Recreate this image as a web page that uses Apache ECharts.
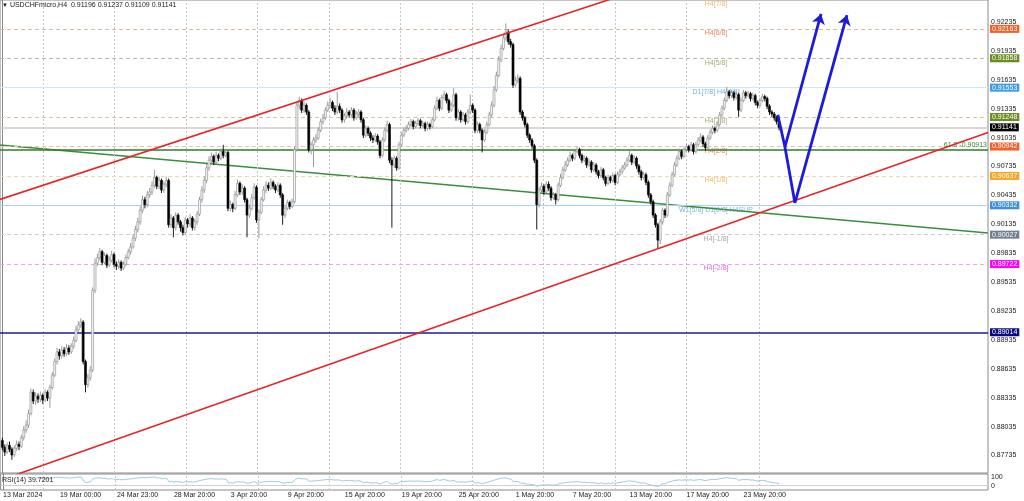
<!DOCTYPE html>
<html><head><meta charset="utf-8">
<script src="https://cdn.jsdelivr.net/npm/echarts@6/dist/echarts.min.js"></script>
<style>html,body{margin:0;padding:0;background:#fff}#main{width:1024px;height:501px}</style>
</head><body><div id="main"></div>
<script>
// ---------- DATA (bar index 0 = 13 Mar 2024 00:00, H4 bars) ----------
const open = [
0.8789,0.8782,0.8777,0.8784,0.8780,0.8774,0.8781,0.8785,0.8783,0.8792,
0.8800,0.8805,0.8817,0.8839,0.8830,0.8835,0.8832,0.8836,0.8831,0.8839,
0.8833,0.8844,0.8857,0.8871,0.8881,0.8877,0.8883,0.8879,0.8885,0.8881,
0.8887,0.8893,0.8904,0.8909,0.8912,0.8871,0.8847,0.8854,0.8862,0.8945,
0.8973,0.8979,0.8985,0.8974,0.8981,0.8971,0.8976,0.8982,0.8972,0.8970,
0.8974,0.8968,0.8972,0.8979,0.8985,0.8990,0.8999,0.9008,0.9016,0.9028,
0.9039,0.9034,0.9044,0.9047,0.9054,0.9062,0.9053,0.9059,0.9049,0.9055,
0.9059,0.9013,0.9020,0.9010,0.9023,0.9016,0.9010,0.9005,0.9018,0.9014,
0.9020,0.9010,0.9016,0.9024,0.9039,0.9049,0.9059,0.9072,0.9080,0.9084,
0.9078,0.9085,0.9082,0.9089,0.9085,0.9088,0.9030,0.9034,0.9030,0.9044,
0.9056,0.9047,0.9051,0.9039,0.9023,0.9030,0.9041,0.9052,0.9018,0.9026,
0.9039,0.9049,0.9054,0.9051,0.9057,0.9053,0.9049,0.9054,0.9044,0.9023,
0.9030,0.9036,0.9032,0.9037,0.9091,0.9137,0.9142,0.9132,0.9137,0.9130,
0.9091,0.9096,0.9101,0.9103,0.9111,0.9120,0.9124,0.9132,0.9137,0.9140,
0.9134,0.9130,0.9136,0.9132,0.9122,0.9126,0.9130,0.9127,0.9132,0.9124,
0.9128,0.9130,0.9122,0.9106,0.9113,0.9108,0.9103,0.9101,0.9105,0.9099,
0.9085,0.9101,0.9111,0.9117,0.9080,0.9075,0.9082,0.9072,0.9096,0.9106,
0.9111,0.9113,0.9117,0.9120,0.9115,0.9118,0.9121,0.9116,0.9118,0.9113,
0.9117,0.9115,0.9122,0.9134,0.9142,0.9134,0.9145,0.9148,0.9142,0.9132,
0.9137,0.9148,0.9124,0.9130,0.9122,0.9127,0.9120,0.9130,0.9137,0.9132,
0.9111,0.9117,0.9111,0.9101,0.9109,0.9117,0.9127,0.9137,0.9153,0.9168,
0.9184,0.9196,0.9207,0.9213,0.9203,0.9200,0.9158,0.9163,0.9165,0.9130,
0.9124,0.9117,0.9106,0.9101,0.9095,0.9080,0.9034,0.9049,0.9053,0.9047,
0.9055,0.9051,0.9041,0.9044,0.9039,0.9054,0.9062,0.9070,0.9075,0.9080,
0.9085,0.9082,0.9089,0.9091,0.9085,0.9080,0.9082,0.9075,0.9078,0.9070,
0.9075,0.9068,0.9064,0.9070,0.9062,0.9056,0.9062,0.9059,0.9064,0.9057,
0.9065,0.9068,0.9072,0.9075,0.9080,0.9085,0.9078,0.9082,0.9074,0.9068,
0.9062,0.9065,0.9057,0.9044,0.9037,0.9023,0.9013,0.8997,0.9016,0.9028,
0.9023,0.9044,0.9054,0.9065,0.9075,0.9082,0.9089,0.9084,0.9091,0.9094,
0.9091,0.9096,0.9089,0.9096,0.9101,0.9104,0.9097,0.9093,0.9103,0.9109,
0.9113,0.9111,0.9117,0.9127,0.9134,0.9142,0.9151,0.9147,0.9150,0.9145,
0.9148,0.9132,0.9142,0.9150,0.9147,0.9149,0.9144,0.9147,0.9140,0.9137,
0.9142,0.9146,0.9144,0.9136,0.9130,0.9128,0.9124,0.91196];
const close = [
0.8782,0.8777,0.8784,0.8780,0.8774,0.8781,0.8785,0.8783,0.8792,0.8800,
0.8805,0.8817,0.8839,0.8830,0.8835,0.8832,0.8836,0.8831,0.8839,0.8833,
0.8844,0.8857,0.8871,0.8881,0.8877,0.8883,0.8879,0.8885,0.8881,0.8887,
0.8893,0.8904,0.8909,0.8912,0.8871,0.8847,0.8854,0.8862,0.8945,0.8973,
0.8979,0.8985,0.8974,0.8981,0.8971,0.8976,0.8982,0.8972,0.8970,0.8974,
0.8968,0.8972,0.8979,0.8985,0.8990,0.8999,0.9008,0.9016,0.9028,0.9039,
0.9034,0.9044,0.9047,0.9054,0.9062,0.9053,0.9059,0.9049,0.9055,0.9059,
0.9013,0.9020,0.9010,0.9023,0.9016,0.9010,0.9005,0.9018,0.9014,0.9020,
0.9010,0.9016,0.9024,0.9039,0.9049,0.9059,0.9072,0.9080,0.9084,0.9078,
0.9085,0.9082,0.9089,0.9085,0.9088,0.9030,0.9034,0.9030,0.9044,0.9056,
0.9047,0.9051,0.9039,0.9023,0.9030,0.9041,0.9052,0.9018,0.9026,0.9039,
0.9049,0.9054,0.9051,0.9057,0.9053,0.9049,0.9054,0.9044,0.9023,0.9030,
0.9036,0.9032,0.9037,0.9091,0.9137,0.9142,0.9132,0.9137,0.9130,0.9091,
0.9096,0.9101,0.9103,0.9111,0.9120,0.9124,0.9132,0.9137,0.9140,0.9134,
0.9130,0.9136,0.9132,0.9122,0.9126,0.9130,0.9127,0.9132,0.9124,0.9128,
0.9130,0.9122,0.9106,0.9113,0.9108,0.9103,0.9101,0.9105,0.9099,0.9085,
0.9101,0.9111,0.9117,0.9080,0.9075,0.9082,0.9072,0.9096,0.9106,0.9111,
0.9113,0.9117,0.9120,0.9115,0.9118,0.9121,0.9116,0.9118,0.9113,0.9117,
0.9115,0.9122,0.9134,0.9142,0.9134,0.9145,0.9148,0.9142,0.9132,0.9137,
0.9148,0.9124,0.9130,0.9122,0.9127,0.9120,0.9130,0.9137,0.9132,0.9111,
0.9117,0.9111,0.9101,0.9109,0.9117,0.9127,0.9137,0.9153,0.9168,0.9184,
0.9196,0.9207,0.9213,0.9203,0.9200,0.9158,0.9163,0.9165,0.9130,0.9124,
0.9117,0.9106,0.9101,0.9095,0.9080,0.9034,0.9049,0.9053,0.9047,0.9055,
0.9051,0.9041,0.9044,0.9039,0.9054,0.9062,0.9070,0.9075,0.9080,0.9085,
0.9082,0.9089,0.9091,0.9085,0.9080,0.9082,0.9075,0.9078,0.9070,0.9075,
0.9068,0.9064,0.9070,0.9062,0.9056,0.9062,0.9059,0.9064,0.9057,0.9065,
0.9068,0.9072,0.9075,0.9080,0.9085,0.9078,0.9082,0.9074,0.9068,0.9062,
0.9065,0.9057,0.9044,0.9037,0.9023,0.9013,0.8997,0.9016,0.9028,0.9023,
0.9044,0.9054,0.9065,0.9075,0.9082,0.9089,0.9084,0.9091,0.9094,0.9091,
0.9096,0.9089,0.9096,0.9101,0.9104,0.9097,0.9093,0.9103,0.9109,0.9113,
0.9111,0.9117,0.9127,0.9134,0.9142,0.9151,0.9147,0.9150,0.9145,0.9148,
0.9132,0.9142,0.9150,0.9147,0.9149,0.9144,0.9147,0.9140,0.9137,0.9142,
0.9146,0.9144,0.9136,0.9130,0.9128,0.9124,0.9120,0.91141];
const high = [
0.8792,0.8785,0.8787,0.8788,0.8782,0.8784,0.8789,0.8788,0.8795,0.8804,
0.8810,0.8821,0.8843,0.8842,0.8839,0.8838,0.8840,0.8838,0.8842,0.8841,
0.8847,0.8860,0.8874,0.8885,0.8884,0.8887,0.8886,0.8889,0.8888,0.8890,
0.8897,0.8908,0.8913,0.8916,0.8914,0.8873,0.8858,0.8866,0.8948,0.8978,
0.8983,0.8989,0.8987,0.8984,0.8983,0.8980,0.8986,0.8984,0.8975,0.8977,
0.8976,0.8975,0.8982,0.8988,0.8994,0.9003,0.9012,0.9020,0.9032,0.9043,
0.9042,0.9048,0.9051,0.9058,0.9070,0.9064,0.9063,0.9061,0.9058,0.9063,
0.9061,0.9024,0.9022,0.9026,0.9025,0.9018,0.9013,0.9021,0.9020,0.9024,
0.9022,0.9019,0.9027,0.9042,0.9053,0.9063,0.9076,0.9084,0.9088,0.9086,
0.9089,0.9087,0.9092,0.9096,0.9092,0.9090,0.9038,0.9036,0.9048,0.9060,
0.9058,0.9055,0.9053,0.9041,0.9034,0.9045,0.9056,0.9054,0.9029,0.9042,
0.9053,0.9058,0.9057,0.9061,0.9059,0.9055,0.9057,0.9056,0.9046,0.9033,
0.9039,0.9038,0.9040,0.9094,0.9141,0.9146,0.9144,0.9141,0.9139,0.9132,
0.9099,0.9104,0.9107,0.9114,0.9123,0.9128,0.9135,0.9141,0.9145,0.9142,
0.9137,0.9151,0.9139,0.9134,0.9129,0.9134,0.9132,0.9135,0.9134,0.9131,
0.9133,0.9132,0.9124,0.9116,0.9115,0.9110,0.9106,0.9108,0.9107,0.9101,
0.9104,0.9114,0.9121,0.9119,0.9083,0.9085,0.9084,0.9099,0.9109,0.9114,
0.9116,0.9120,0.9123,0.9122,0.9121,0.9124,0.9123,0.9121,0.9120,0.9120,
0.9119,0.9125,0.9137,0.9146,0.9144,0.9148,0.9152,0.9150,0.9144,0.9140,
0.9155,0.9150,0.9133,0.9132,0.9130,0.9129,0.9133,0.9148,0.9139,0.9134,
0.9120,0.9119,0.9113,0.9112,0.9120,0.9130,0.9141,0.9157,0.9172,0.9188,
0.9200,0.9211,0.9222,0.9216,0.9206,0.9202,0.9167,0.9169,0.9167,0.9132,
0.9126,0.9119,0.9108,0.9103,0.9097,0.9082,0.9052,0.9057,0.9055,0.9058,
0.9058,0.9053,0.9047,0.9046,0.9057,0.9066,0.9073,0.9079,0.9083,0.9089,
0.9087,0.9092,0.9094,0.9093,0.9087,0.9085,0.9084,0.9081,0.9080,0.9078,
0.9077,0.9070,0.9073,0.9072,0.9064,0.9065,0.9064,0.9067,0.9066,0.9068,
0.9071,0.9075,0.9078,0.9083,0.9091,0.9087,0.9085,0.9084,0.9076,0.9070,
0.9068,0.9067,0.9059,0.9046,0.9039,0.9025,0.9015,0.9019,0.9031,0.9030,
0.9047,0.9057,0.9068,0.9078,0.9085,0.9092,0.9091,0.9094,0.9097,0.9096,
0.9099,0.9098,0.9099,0.9104,0.9108,0.9106,0.9099,0.9106,0.9112,0.9116,
0.9115,0.9120,0.9130,0.9137,0.9145,0.9156,0.9153,0.9153,0.9152,0.9151,
0.9150,0.9145,0.9153,0.9152,0.9152,0.9151,0.9150,0.9149,0.9142,0.9145,
0.9149,0.9148,0.9146,0.9138,0.9132,0.9130,0.9126,0.91237];
const low = [
0.8779,0.8773,0.8775,0.8777,0.8769,0.8772,0.8778,0.8779,0.8781,0.8789,
0.8797,0.8802,0.8815,0.8827,0.8826,0.8828,0.8829,0.8827,0.8829,0.8830,
0.8823,0.8842,0.8855,0.8868,0.8873,0.8874,0.8876,0.8877,0.8878,0.8879,
0.8884,0.8891,0.8902,0.8906,0.8868,0.8839,0.8844,0.8851,0.8860,0.8942,
0.8970,0.8976,0.8971,0.8972,0.8968,0.8969,0.8974,0.8969,0.8966,0.8967,
0.8965,0.8966,0.8970,0.8977,0.8982,0.8988,0.8996,0.9005,0.9013,0.9025,
0.9030,0.9031,0.9041,0.9044,0.9051,0.9050,0.9050,0.9046,0.9046,0.9052,
0.9010,0.9010,0.9000,0.9007,0.9013,0.9006,0.9002,0.9003,0.9010,0.9011,
0.9007,0.9007,0.9013,0.9022,0.9036,0.9046,0.9056,0.9069,0.9077,0.9075,
0.9076,0.9079,0.9080,0.9082,0.9083,0.9027,0.9027,0.9026,0.9028,0.9042,
0.9044,0.9044,0.9036,0.9000,0.9020,0.9028,0.9039,0.9015,0.8999,0.9024,
0.9037,0.9046,0.9048,0.9049,0.9050,0.9046,0.9047,0.9041,0.9013,0.9020,
0.9028,0.9029,0.9030,0.9035,0.9089,0.9133,0.9129,0.9129,0.9127,0.9088,
0.9086,0.9073,0.9098,0.9101,0.9109,0.9117,0.9122,0.9130,0.9134,0.9131,
0.9127,0.9128,0.9129,0.9119,0.9119,0.9123,0.9124,0.9125,0.9121,0.9122,
0.9125,0.9119,0.9103,0.9104,0.9105,0.9100,0.9098,0.9099,0.9096,0.9082,
0.9083,0.9099,0.9109,0.9077,0.9010,0.9072,0.9069,0.9070,0.9094,0.9104,
0.9109,0.9111,0.9115,0.9112,0.9113,0.9116,0.9113,0.9114,0.9110,0.9111,
0.9112,0.9113,0.9120,0.9132,0.9131,0.9132,0.9143,0.9139,0.9129,0.9130,
0.9135,0.9121,0.9121,0.9119,0.9120,0.9117,0.9118,0.9128,0.9129,0.9108,
0.9108,0.9108,0.9088,0.9099,0.9107,0.9115,0.9125,0.9135,0.9151,0.9166,
0.9182,0.9194,0.9204,0.9200,0.9197,0.9155,0.9156,0.9160,0.9127,0.9121,
0.9114,0.9103,0.9098,0.9092,0.9077,0.9008,0.9031,0.9046,0.9044,0.9045,
0.9048,0.9038,0.9039,0.9034,0.9037,0.9052,0.9060,0.9068,0.9073,0.9078,
0.9079,0.9080,0.9087,0.9082,0.9077,0.9078,0.9072,0.9073,0.9067,0.9068,
0.9065,0.9061,0.9062,0.9059,0.9053,0.9054,0.9056,0.9057,0.9054,0.9055,
0.9063,0.9066,0.9070,0.9073,0.9078,0.9075,0.9076,0.9071,0.9065,0.9059,
0.9060,0.9054,0.9041,0.9034,0.9020,0.9010,0.8988,0.8993,0.9013,0.9020,
0.9021,0.9042,0.9052,0.9063,0.9073,0.9080,0.9081,0.9082,0.9089,0.9088,
0.9089,0.9086,0.9087,0.9094,0.9099,0.9094,0.9090,0.9091,0.9101,0.9107,
0.9108,0.9109,0.9115,0.9125,0.9132,0.9140,0.9144,0.9145,0.9142,0.9143,
0.9125,0.9130,0.9140,0.9144,0.9145,0.9141,0.9142,0.9137,0.9134,0.9135,
0.9140,0.9141,0.9133,0.9127,0.9125,0.9121,0.9117,0.91109];

const priceTicks = [0.92235,0.91935,0.91635,0.91335,0.91035,0.90735,0.90435,0.90135,0.89835,0.89535,0.89235,0.88935,0.88635,0.88335,0.88035,0.87735];
const timeTickBars = [0,24,48,72,96,120,144,168,192,216,240,264,288,312];
const timeTickLabels = ['13 Mar 2024','19 Mar 00:00','24 Mar 23:00','28 Mar 20:00','3 Apr 20:00','9 Apr 20:00','15 Apr 20:00','19 Apr 20:00','25 Apr 20:00','1 May 20:00','7 May 20:00','13 May 20:00','17 May 20:00','23 May 20:00'];
const gridBars = [17.1,47.2,77.3,107.4,137.5,167.6,197.7,227.8,257.9,288.0,318.6];

const murreyPrices = [0.92468,0.92163,0.91858,0.91553,0.91248,0.90942,0.90637,0.90332,0.90027,0.89722];
const murreyNames = ['H4[7/8]','H4[6/8]','H4[5/8]','D1[7/8] H4[4/8]','H4[3/8]','H4[2/8]','H4[1/8]','W1[5/8] D1[6/8] H4SUP','H4[-1/8]','H4[-2/8]'];
const murreyLabelBar = 300.5;
const bidPrice = 0.91141;
const supportPrice = 0.89014;
const fibPrice = 0.90913;
const fibText = '61.8 -0.90913';

const upperChannel = [[-1,0.90393],[260,0.92503]];
const lowerChannel = [[-1,0.87477],[415,0.91087]];
const greenTrend = [[-1,0.90957],[415,0.90044]];
const arrowLegs = [[[326.5,0.91270],[329.5,0.90937]], [[329.5,0.90937],[333.7,0.90356]]];
const arrowHeads = [[[329.5,0.90937],[344.7,0.92318]], [[333.7,0.90356],[355.6,0.92307]]];

const headerText = 'USDCHFmicro,H4  0.91196 0.91237 0.91109 0.91141';
const rsiText = 'RSI(14) 39.7201';
const rsiPeriod = 14;

// ---------- STYLES ----------
const FONT = 'Liberation Sans';
const murreyStyles = [
  null,
  {line:'#d4bca6', dash:'dashed', bg:'#f2612a', text:'#e0693a'},
  {line:'#bdb8a4', dash:'dashed', bg:'#6b8e23', text:'#7f9f45'},
  {line:'#d3e6f7', dash:'solid',  bg:'#3d9be9', text:'#4a9de0'},
  {line:'#cfc4ae', dash:'dashed', bg:'#6b8e23', text:'#8a9a48'},
  {line:'#e8c2a4', dash:'dashed', bg:'#f2612a', text:'#e0693a'},
  {line:'#ecd8b0', dash:'dashed', bg:'#f5a623', text:'#f0a830'},
  {line:'#a9d1f2', dash:'solid',  bg:'#3d8fe0', text:'#5aa0e0'},
  {line:'#cfcfca', dash:'dashed', bg:'#708090', text:'#8e8e8e'},
  {line:'#e2a8e2', dash:'dashed', bg:'#ff00ff', text:'#e040e0'}
];
const murreyTopText = '#e8a850';

// ---------- BUILD ----------
const candles = close.map((c, i) => [i, open[i], c, low[i], high[i]]);

function computeRSI(cl, n) {
  const out = [];
  let g = 0, l = 0;
  for (let i = 1; i < cl.length; i++) {
    const d = cl[i] - cl[i - 1];
    const up = d > 0 ? d : 0, dn = d < 0 ? -d : 0;
    if (i <= n) {
      g += up; l += dn;
      if (i === n) { g /= n; l /= n; out.push([i, l === 0 ? 100 : 100 - 100 / (1 + g / l)]); }
    } else {
      g = (g * (n - 1) + up) / n; l = (l * (n - 1) + dn) / n;
      out.push([i, l === 0 ? 100 : 100 - 100 / (1 + g / l)]);
    }
  }
  return out;
}
const rsiData = computeRSI(close, rsiPeriod);

const axisLabelBox = (text, bg) => ({show: true, position: 'end', distance: 2, formatter: () => text,
  backgroundColor: bg, color: '#fff', fontSize: 7, fontFamily: FONT, padding: [1, 2, 0, 2],
  textBorderWidth: 0});

const levelMarks = [];
murreyPrices.forEach((p, k) => {
  const s = murreyStyles[k];
  if (!s) return;
  levelMarks.push({
    yAxis: p,
    lineStyle: {color: s.line, type: s.dash === 'dashed' ? [4, 3] : 'solid', width: 1},
    label: axisLabelBox(p.toFixed(5), s.bg)
  });
});
levelMarks.push({yAxis: bidPrice, lineStyle: {color: '#d6c9c0', type: 'solid', width: 1.5},
  label: axisLabelBox(bidPrice.toFixed(5), '#000')});
levelMarks.push({yAxis: supportPrice, lineStyle: {color: '#1c1c8e', type: 'solid', width: 1.5},
  label: axisLabelBox(supportPrice.toFixed(5), '#0a0a80')});
levelMarks.push({yAxis: fibPrice, lineStyle: {color: '#2f7d2f', type: 'solid', width: 1.5},
  label: {show: true, position: 'insideEndTop', distance: 1, formatter: fibText,
    color: '#3a8a3a', fontSize: 7, fontFamily: FONT, textBorderWidth: 0}});

const murreyTextData = murreyPrices.map((p, k) => ({
  value: [murreyLabelBar, p],
  label: {color: k === 0 ? murreyTopText : murreyStyles[k].text}
}));

const chart = echarts.init(document.getElementById('main'), null, {renderer: 'canvas'});
chart.setOption({
  animation: false,
  backgroundColor: '#ffffff',
  textStyle: {fontFamily: FONT},
  title: [
    {text: '{t|▼} ' + headerText, left: 2, top: 2, padding: 0,
     textStyle: {fontSize: 7, fontWeight: 'normal', color: '#1a1a1a', fontFamily: FONT,
       rich: {t: {fontSize: 6, color: '#1a1a1a'}}}},
    {text: rsiText, left: 2, top: 477, padding: 0,
     textStyle: {fontSize: 7, fontWeight: 'normal', color: '#1a1a1a', fontFamily: FONT}}
  ],
  grid: [
    {left: 0, top: 0, right: 36, height: 473, show: true, borderColor: '#8a8a8a', borderWidth: 1, backgroundColor: '#fff'},
    {left: 0, top: 474, right: 36, height: 16, show: true, borderColor: '#8a8a8a', borderWidth: 1, backgroundColor: '#fff'}
  ],
  xAxis: [
    {type: 'value', gridIndex: 0, min: -1, max: 415, show: false},
    {type: 'value', gridIndex: 1, min: -1, max: 415,
     axisLine: {show: false}, axisTick: {show: false}, splitLine: {show: false},
     axisLabel: {customValues: timeTickBars, formatter: v => timeTickLabels[timeTickBars.indexOf(v)] || '',
       align: 'left', fontSize: 7, margin: 2, color: '#1a1a1a', fontFamily: FONT}}
  ],
  yAxis: [
    {type: 'value', gridIndex: 0, position: 'right', min: 0.87553, max: 0.92463,
     axisLine: {show: true, lineStyle: {color: '#8a8a8a'}}, axisTick: {show: false}, splitLine: {show: false},
     axisLabel: {customValues: priceTicks, formatter: v => v.toFixed(5), fontSize: 7, margin: 3, color: '#1a1a1a', fontFamily: FONT}},
    {type: 'value', gridIndex: 1, position: 'right', min: 0, max: 100,
     axisLine: {show: true, lineStyle: {color: '#8a8a8a'}}, axisTick: {show: false}, splitLine: {show: false},
     axisLabel: {customValues: [0, 100], formatter: v => String(v), fontSize: 7, margin: 3, color: '#1a1a1a', fontFamily: FONT,
       verticalAlignMaxLabel: 'top', verticalAlignMinLabel: 'bottom'}}
  ],
  series: [
    {type: 'line', xAxisIndex: 0, yAxisIndex: 0, data: [], silent: true, z: 1,
     markLine: {silent: true, symbol: 'none', animation: false, label: {show: false},
       lineStyle: {color: '#c6c6c6', type: [2, 2], width: 1},
       data: gridBars.map(v => ({xAxis: v}))}},
    {type: 'line', xAxisIndex: 0, yAxisIndex: 0, data: [], silent: true, z: 2,
     markLine: {silent: true, symbol: 'none', animation: false, precision: 5, data: levelMarks}},
    {type: 'scatter', xAxisIndex: 0, yAxisIndex: 0, symbolSize: 0, silent: true, clip: false, z: 3,
     data: murreyTextData,
     label: {show: true, position: 'bottom', distance: 1, fontSize: 7, fontFamily: FONT,
       textBorderWidth: 0, textBorderColor: 'transparent',
       formatter: p => murreyNames[p.dataIndex]}},
    {type: 'line', xAxisIndex: 0, yAxisIndex: 0, data: greenTrend, showSymbol: false, silent: true, z: 4,
     lineStyle: {color: '#3a8d3a', width: 1.5}},
    {type: 'custom', xAxisIndex: 0, yAxisIndex: 0, z: 5, silent: true,
     encode: {x: 0, y: [1, 2, 3, 4]},
     data: candles,
     renderItem: (params, api) => {
       const i = api.value(0), o = api.value(1), c = api.value(2), l = api.value(3), h = api.value(4);
       const pO = api.coord([i, o]), pC = api.coord([i, c]), pL = api.coord([i, l]), pH = api.coord([i, h]);
       const x = pO[0];
       const bull = c >= o;
       const col = bull ? '#8e8e8e' : '#000';
       const top = Math.min(pO[1], pC[1]);
       const hgt = Math.max(Math.abs(pO[1] - pC[1]), 1);
       return {type: 'group', children: [
         {type: 'line', shape: {x1: x, y1: pH[1], x2: x, y2: pL[1]}, style: {stroke: col, lineWidth: 0.9}},
         {type: 'rect', shape: {x: x - 1, y: top, width: 2, height: hgt},
          style: {fill: bull ? '#f2f2f2' : '#000', stroke: col, lineWidth: 0.6}}
       ]};
     }},
    {type: 'line', xAxisIndex: 0, yAxisIndex: 0, data: upperChannel, showSymbol: false, silent: true, z: 6,
     lineStyle: {color: '#e3262b', width: 1.6}},
    {type: 'line', xAxisIndex: 0, yAxisIndex: 0, data: lowerChannel, showSymbol: false, silent: true, z: 6,
     lineStyle: {color: '#e3262b', width: 1.6}},
    {type: 'lines', coordinateSystem: 'cartesian2d', xAxisIndex: 0, yAxisIndex: 0, z: 8, silent: true,
     symbol: 'none', lineStyle: {color: '#1c1cd8', width: 2.8, opacity: 1},
     data: arrowLegs.map(c => ({coords: c}))},
    {type: 'lines', coordinateSystem: 'cartesian2d', xAxisIndex: 0, yAxisIndex: 0, z: 8, silent: true,
     symbol: ['none', 'arrow'], symbolSize: [7, 10], lineStyle: {color: '#1c1cd8', width: 2.8, opacity: 1},
     data: arrowHeads.map(c => ({coords: c}))},
    {type: 'line', xAxisIndex: 1, yAxisIndex: 1, data: rsiData, showSymbol: false, silent: true, z: 5,
     lineStyle: {color: '#9ccbe0', width: 1},
     markLine: {silent: true, symbol: 'none', animation: false, label: {show: false},
       data: gridBars.map(v => ({xAxis: v, lineStyle: {color: '#c6c6c6', type: [2, 2], width: 1}}))
         .concat([{yAxis: 30, lineStyle: {color: '#cfcfcf', type: 'solid', width: 1}}])}}
  ]
});
</script>
</body></html>
